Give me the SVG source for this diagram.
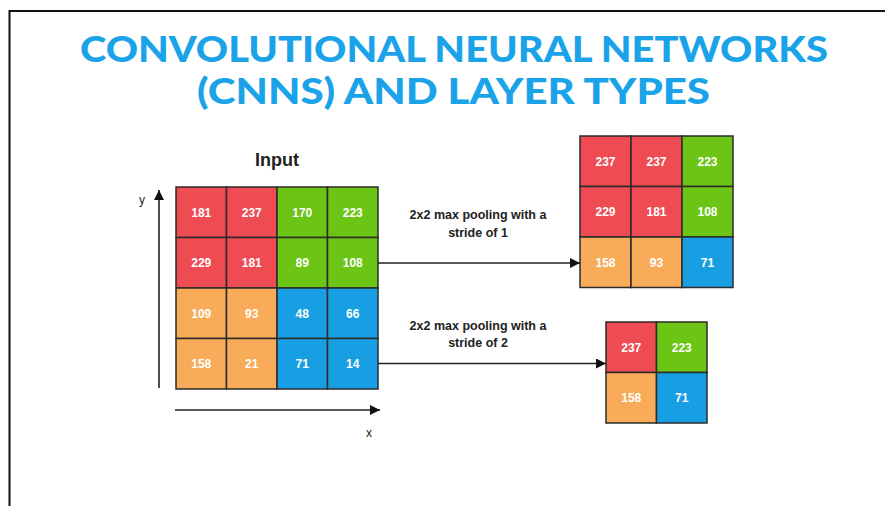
<svg xmlns="http://www.w3.org/2000/svg" width="885" height="506" viewBox="0 0 885 506">
<style>
.title{font-family:Lato,"Open Sans","Liberation Sans",sans-serif;font-weight:900;font-size:36px;fill:#1AA3E8;text-anchor:middle}
.c{stroke:#2b2b2b;stroke-width:1.5}
.r{fill:#EE4B52}.g{fill:#6CC414}.o{fill:#F8AC59}.b{fill:#189FE3}
.n{font-family:"Liberation Sans",Arial,sans-serif;font-size:12px;font-weight:bold;fill:#fff;text-anchor:middle}
.lbl{font-family:"Liberation Sans",Arial,sans-serif;font-size:12.5px;font-weight:bold;fill:#222;text-anchor:middle}
.ax{font-family:"Liberation Sans",Arial,sans-serif;font-size:12px;fill:#222;text-anchor:middle}
.ln{stroke:#222;stroke-width:1.6;fill:none}
</style>
<defs>
<marker id="ah" viewBox="0 0 10 10" refX="10" refY="5" markerWidth="10" markerHeight="10" markerUnits="userSpaceOnUse" orient="auto">
<path d="M0,0 L10,5 L0,10 z" fill="#111"/>
</marker>
</defs>
<rect width="885" height="506" fill="#fff"/>
<path d="M9.5,506 V11 H885" fill="none" stroke="#111" stroke-width="2"/>
<text class="title" x="454" y="62" textLength="748" lengthAdjust="spacingAndGlyphs">CONVOLUTIONAL NEURAL NETWORKS</text>
<text class="title" x="453.5" y="104" textLength="513" lengthAdjust="spacingAndGlyphs">(CNNS) AND LAYER TYPES</text>

<g id="input">
<text x="277" y="166" font-family="Liberation Sans,Arial,sans-serif" font-size="18" font-weight="bold" fill="#222" text-anchor="middle">Input</text>
<rect class="c r" x="176" y="187" width="50.5" height="50.5"/>
<rect class="c r" x="226.5" y="187" width="50.5" height="50.5"/>
<rect class="c g" x="277" y="187" width="50.5" height="50.5"/>
<rect class="c g" x="327.5" y="187" width="50.5" height="50.5"/>
<rect class="c r" x="176" y="237.5" width="50.5" height="50.5"/>
<rect class="c r" x="226.5" y="237.5" width="50.5" height="50.5"/>
<rect class="c g" x="277" y="237.5" width="50.5" height="50.5"/>
<rect class="c g" x="327.5" y="237.5" width="50.5" height="50.5"/>
<rect class="c o" x="176" y="288" width="50.5" height="50.5"/>
<rect class="c o" x="226.5" y="288" width="50.5" height="50.5"/>
<rect class="c b" x="277" y="288" width="50.5" height="50.5"/>
<rect class="c b" x="327.5" y="288" width="50.5" height="50.5"/>
<rect class="c o" x="176" y="338.5" width="50.5" height="50.5"/>
<rect class="c o" x="226.5" y="338.5" width="50.5" height="50.5"/>
<rect class="c b" x="277" y="338.5" width="50.5" height="50.5"/>
<rect class="c b" x="327.5" y="338.5" width="50.5" height="50.5"/>
<text class="n" x="201.25" y="216.5">181</text>
<text class="n" x="251.75" y="216.5">237</text>
<text class="n" x="302.25" y="216.5">170</text>
<text class="n" x="352.75" y="216.5">223</text>
<text class="n" x="201.25" y="267">229</text>
<text class="n" x="251.75" y="267">181</text>
<text class="n" x="302.25" y="267">89</text>
<text class="n" x="352.75" y="267">108</text>
<text class="n" x="201.25" y="317.5">109</text>
<text class="n" x="251.75" y="317.5">93</text>
<text class="n" x="302.25" y="317.5">48</text>
<text class="n" x="352.75" y="317.5">66</text>
<text class="n" x="201.25" y="368">158</text>
<text class="n" x="251.75" y="368">21</text>
<text class="n" x="302.25" y="368">71</text>
<text class="n" x="352.75" y="368">14</text>
</g>

<g id="axes">
<line class="ln" x1="159" y1="388" x2="159" y2="190" marker-end="url(#ah)"/>
<text class="ax" x="142" y="204">y</text>
<line class="ln" x1="175" y1="410" x2="380" y2="410" marker-end="url(#ah)"/>
<text class="ax" x="369" y="437">x</text>
</g>

<g id="out1">
<rect class="c r" x="580" y="136" width="51" height="50.5"/>
<rect class="c r" x="631" y="136" width="51" height="50.5"/>
<rect class="c g" x="682" y="136" width="51" height="50.5"/>
<rect class="c r" x="580" y="186.5" width="51" height="50.5"/>
<rect class="c r" x="631" y="186.5" width="51" height="50.5"/>
<rect class="c g" x="682" y="186.5" width="51" height="50.5"/>
<rect class="c o" x="580" y="237" width="51" height="50.5"/>
<rect class="c o" x="631" y="237" width="51" height="50.5"/>
<rect class="c b" x="682" y="237" width="51" height="50.5"/>
<text class="n" x="605.5" y="165.5">237</text>
<text class="n" x="656.5" y="165.5">237</text>
<text class="n" x="707.5" y="165.5">223</text>
<text class="n" x="605.5" y="216">229</text>
<text class="n" x="656.5" y="216">181</text>
<text class="n" x="707.5" y="216">108</text>
<text class="n" x="605.5" y="266.5">158</text>
<text class="n" x="656.5" y="266.5">93</text>
<text class="n" x="707.5" y="266.5">71</text>
</g>

<g id="out2">
<rect class="c r" x="606" y="322" width="50.5" height="50.5"/>
<rect class="c g" x="656.5" y="322" width="50.5" height="50.5"/>
<rect class="c o" x="606" y="372.5" width="50.5" height="50.5"/>
<rect class="c b" x="656.5" y="372.5" width="50.5" height="50.5"/>
<text class="n" x="631.25" y="351.5">237</text>
<text class="n" x="681.75" y="351.5">223</text>
<text class="n" x="631.25" y="402">158</text>
<text class="n" x="681.75" y="402">71</text>
</g>

<g id="connectors">
<line class="ln" x1="378" y1="263" x2="580" y2="263" marker-end="url(#ah)"/>
<text class="lbl" x="478" y="219">2x2 max pooling with a</text>
<text class="lbl" x="478" y="237">stride of 1</text>
<line class="ln" x1="378" y1="363.5" x2="606" y2="363.5" marker-end="url(#ah)"/>
<text class="lbl" x="478" y="330">2x2 max pooling with a</text>
<text class="lbl" x="478" y="347">stride of 2</text>
</g>
</svg>
